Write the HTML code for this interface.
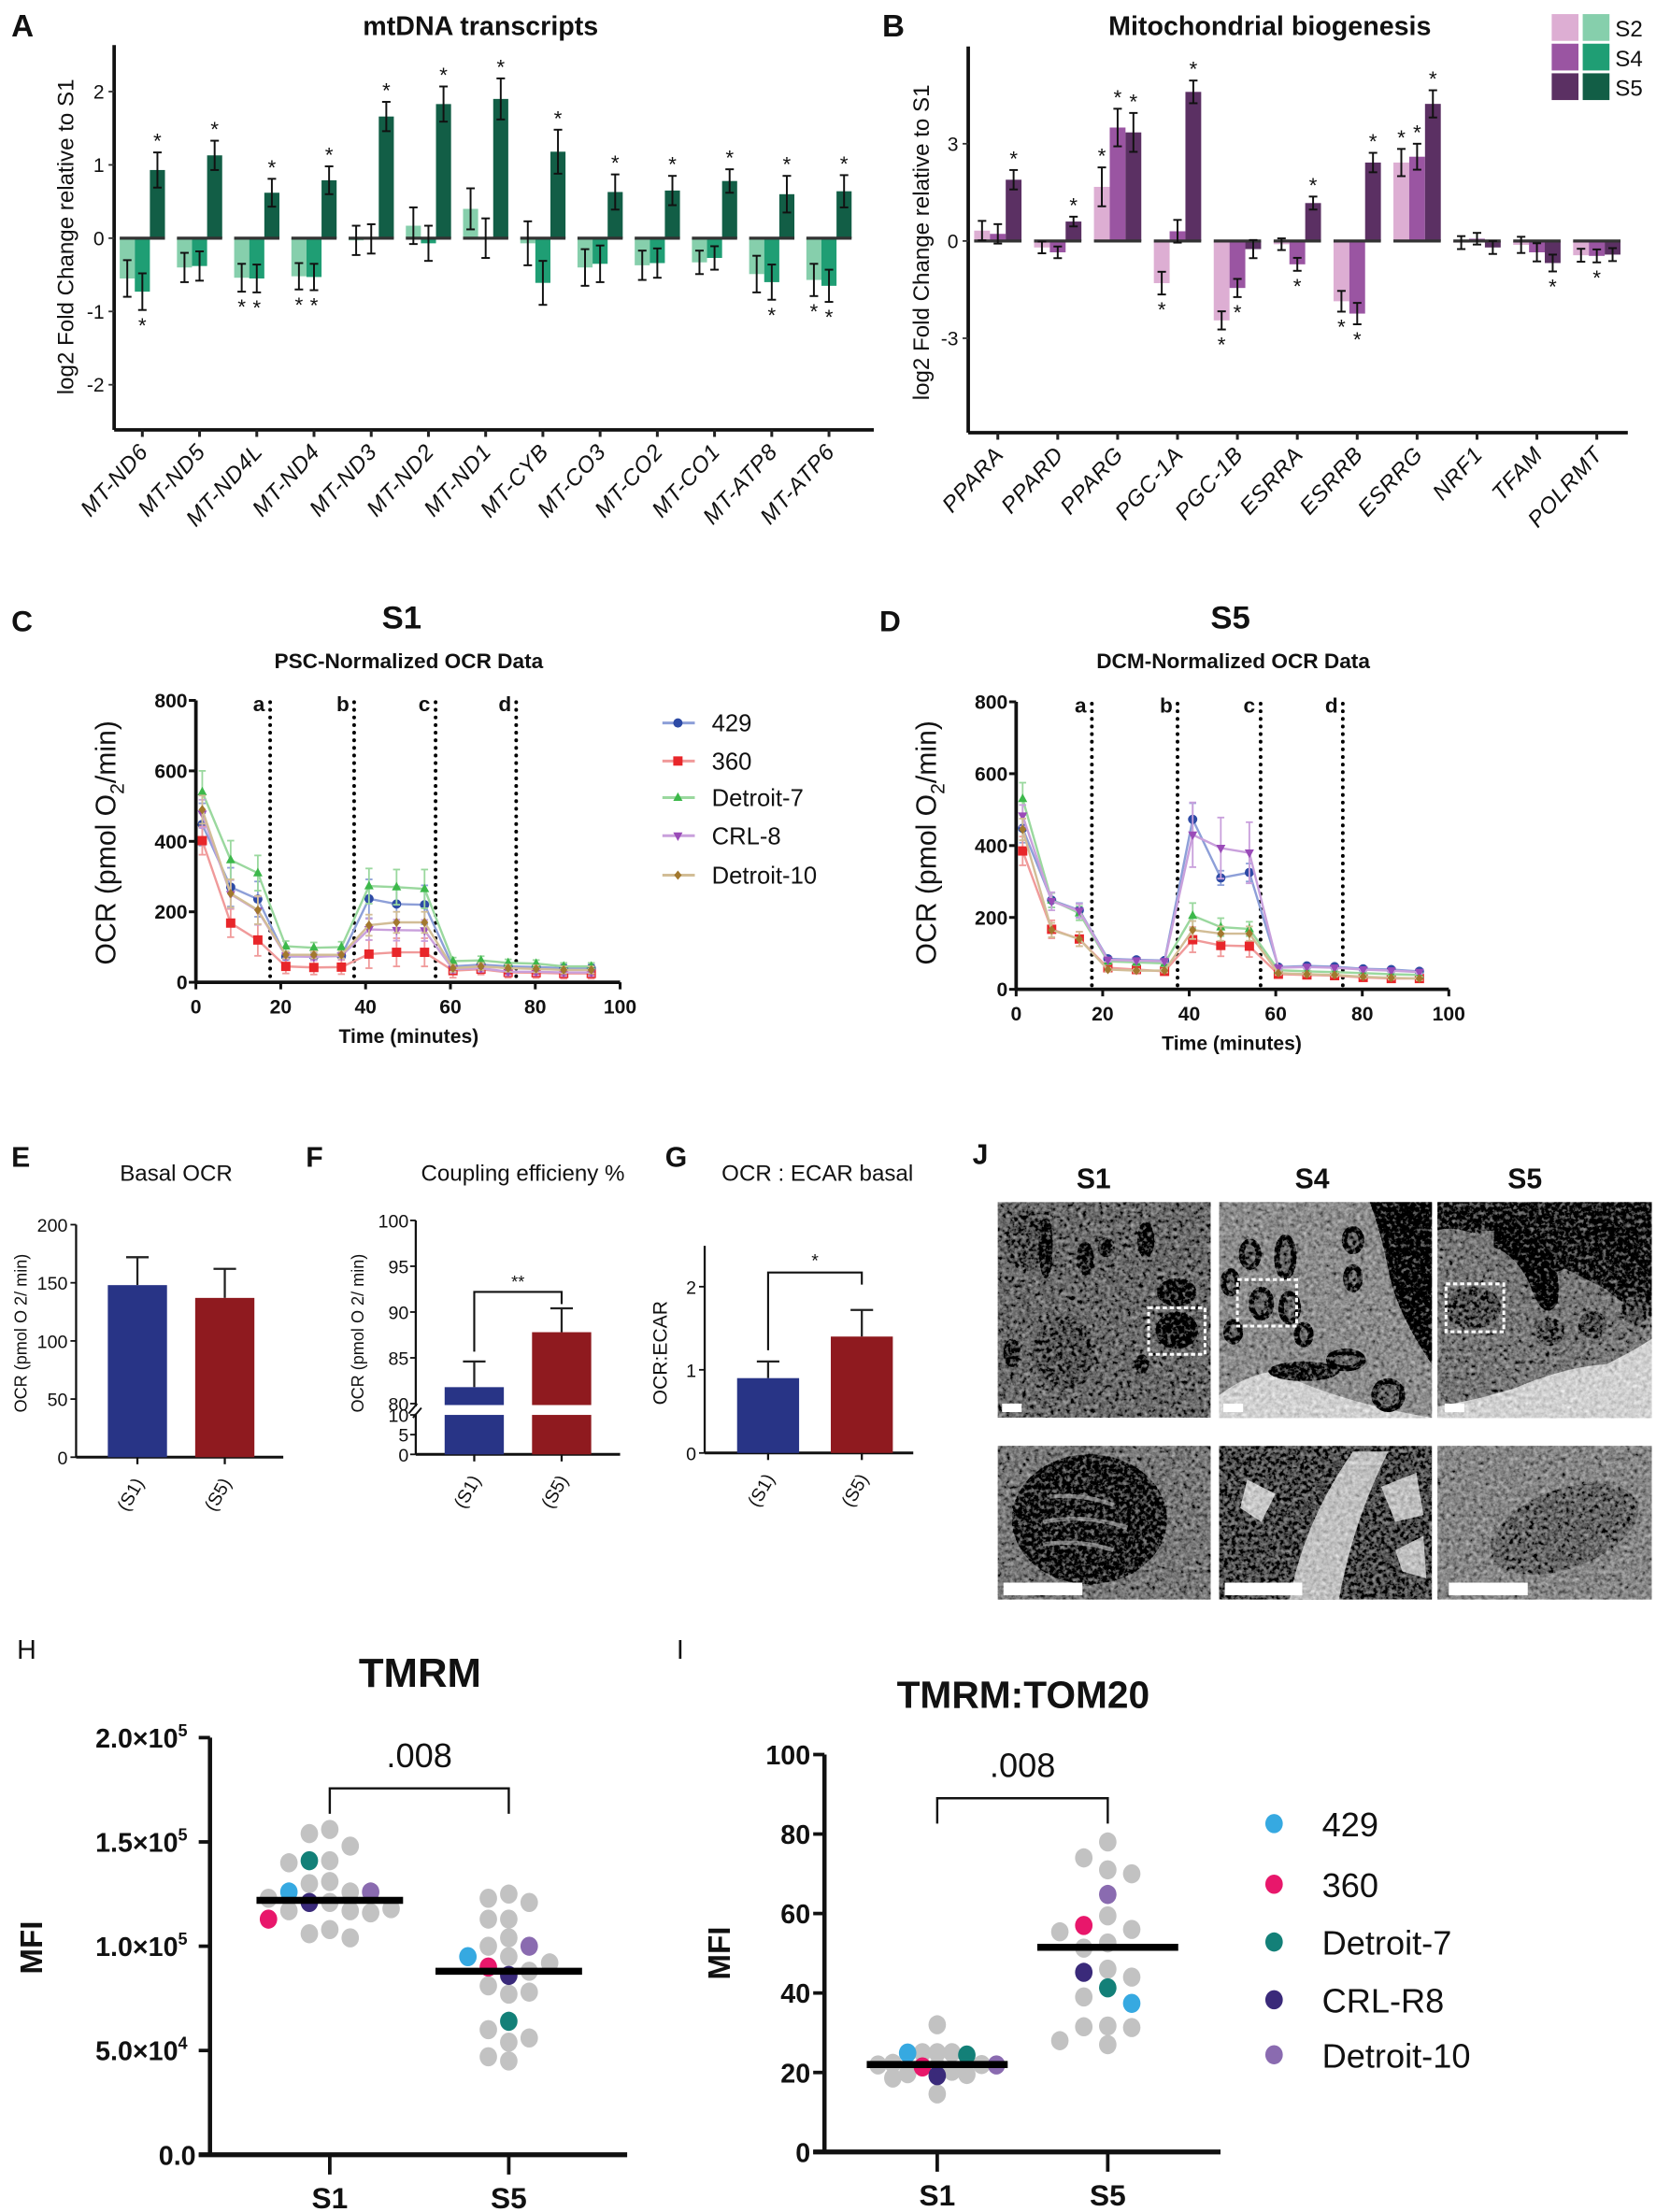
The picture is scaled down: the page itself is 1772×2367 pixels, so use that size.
<!DOCTYPE html>
<html><head><meta charset="utf-8">
<style>
html,body{margin:0;padding:0;background:#fff}
svg{display:block}
text{font-family:"Liberation Sans",Arial,sans-serif;fill:#111}
</style></head><body>
<svg id="fig" xmlns="http://www.w3.org/2000/svg" width="1772" height="2367" viewBox="0 0 1175 1569.6" preserveAspectRatio="none">
<defs>
<filter id="em" x="0" y="0" width="100%" height="100%">
<feTurbulence type="fractalNoise" baseFrequency="0.35" numOctaves="3" seed="4" result="n"/>
<feColorMatrix in="n" type="matrix" values="0.33 0.33 0.33 0 0 0.33 0.33 0.33 0 0 0.33 0.33 0.33 0 0 0 0 0 0 1" result="g"/>
<feComposite in="SourceGraphic" in2="g" operator="arithmetic" k1="0" k2="1" k3="1.0" k4="-0.55" result="c"/>
<feComposite in="c" in2="SourceGraphic" operator="in"/>
</filter>
</defs>

<!-- Panel A static -->
<text x="8" y="26" font-size="22" font-weight="bold">A</text>
<text x="341" y="25" font-size="19" font-weight="bold" text-anchor="middle">mtDNA transcripts</text>
<text transform="translate(52,168) rotate(-90)" font-size="16" text-anchor="middle">log2 Fold Change relative to S1</text>
<g id="gA"></g>

<!-- Panel B static -->
<text x="626" y="26" font-size="22" font-weight="bold">B</text>
<text x="901" y="25" font-size="19" font-weight="bold" text-anchor="middle">Mitochondrial biogenesis</text>
<text transform="translate(659,172) rotate(-90)" font-size="16" text-anchor="middle">log2 Fold Change relative to S1</text>
<g id="gB"></g>
<g>
<rect x="1101" y="10" width="19" height="19" fill="#ddaed3"/>
<rect x="1123" y="10" width="19" height="19" fill="#86cfac"/>
<rect x="1101" y="31" width="19" height="19" fill="#9a55a2"/>
<rect x="1123" y="31" width="19" height="19" fill="#1f9e74"/>
<rect x="1101" y="52" width="19" height="19" fill="#5b3063"/>
<rect x="1123" y="52" width="19" height="19" fill="#125e46"/>
<text x="1146" y="26" font-size="16">S2</text>
<text x="1146" y="47" font-size="16">S4</text>
<text x="1146" y="68" font-size="16">S5</text>
</g>

<!-- Panel C / D static -->
<text x="8" y="448" font-size="21" font-weight="bold">C</text>
<text x="285" y="446" font-size="23" font-weight="bold" text-anchor="middle">S1</text>
<text x="290" y="474" font-size="15" font-weight="bold" text-anchor="middle">PSC-Normalized OCR Data</text>
<text x="290" y="740" font-size="14" font-weight="bold" text-anchor="middle">Time (minutes)</text>
<text transform="translate(82,598) rotate(-90)" font-size="20" text-anchor="middle">OCR (pmol O<tspan font-size="14" dy="6">2</tspan><tspan dy="-6">/min)</tspan></text>
<g id="gC"></g>

<text x="624" y="448" font-size="21" font-weight="bold">D</text>
<text x="873" y="446" font-size="23" font-weight="bold" text-anchor="middle">S5</text>
<text x="875" y="474" font-size="15" font-weight="bold" text-anchor="middle">DCM-Normalized OCR Data</text>
<text x="874" y="745" font-size="14" font-weight="bold" text-anchor="middle">Time (minutes)</text>
<text transform="translate(664,598) rotate(-90)" font-size="20" text-anchor="middle">OCR (pmol O<tspan font-size="14" dy="6">2</tspan><tspan dy="-6">/min)</tspan></text>
<g id="gD"></g>
<g id="gLegC"></g>

<!-- Panels E F G static -->
<text x="8" y="828" font-size="20" font-weight="bold">E</text>
<text x="125" y="838" font-size="16" text-anchor="middle">Basal OCR</text>
<text transform="translate(19,946) rotate(-90)" font-size="12" text-anchor="middle">OCR (pmol O 2/ min)</text>
<g id="gE"></g>
<text x="217" y="828" font-size="20" font-weight="bold">F</text>
<text x="371" y="838" font-size="16" text-anchor="middle">Coupling efficieny %</text>
<text transform="translate(258,946) rotate(-90)" font-size="12" text-anchor="middle">OCR (pmol O 2/ min)</text>
<g id="gF"></g>
<text x="472" y="828" font-size="20" font-weight="bold">G</text>
<text x="580" y="838" font-size="16" text-anchor="middle">OCR : ECAR basal</text>
<text transform="translate(473,960) rotate(-90)" font-size="14" text-anchor="middle">OCR:ECAR</text>
<g id="gG"></g>

<!-- Panel J -->
<text x="690" y="826" font-size="20" font-weight="bold">J</text>
<text x="776" y="843" font-size="20" font-weight="bold" text-anchor="middle">S1</text>
<text x="931" y="843" font-size="20" font-weight="bold" text-anchor="middle">S4</text>
<text x="1082" y="843" font-size="20" font-weight="bold" text-anchor="middle">S5</text>
<g>
 <g filter="url(#em)">
  <rect x="708" y="853" width="151" height="153" fill="#7a7a7a"/>
  <ellipse cx="728" cy="880" rx="14" ry="22" fill="#666"/>
  <ellipse cx="742" cy="885" rx="5" ry="22" fill="#3e3e3e"/>
  <ellipse cx="770" cy="893" rx="6" ry="12" fill="#444"/>
  <ellipse cx="785" cy="885" rx="6" ry="7" fill="#4a4a4a"/>
  <ellipse cx="813" cy="880" rx="6" ry="13" fill="#424242"/>
  <ellipse cx="835" cy="917" rx="14" ry="10" fill="#3e3e3e"/>
  <ellipse cx="835" cy="944" rx="15" ry="13" fill="#303030"/>
  <ellipse cx="755" cy="960" rx="22" ry="26" fill="#686868"/>
  <ellipse cx="718" cy="960" rx="6" ry="10" fill="#4a4a4a"/>
  <ellipse cx="810" cy="968" rx="5" ry="7" fill="#424242"/>
 </g>
 <g filter="url(#em)">
  <rect x="865" y="853" width="151" height="153" fill="#989898"/>
  <path d="M972 853 L1016 853 L1016 968 Q990 930 985 900 Q980 875 972 853Z" fill="#2a2a2a"/>
  <path d="M865 1006 L865 990 Q885 975 905 973 Q950 995 1016 1006Z" fill="#d8d8d8"/>
  <ellipse cx="887" cy="890" rx="6" ry="9" fill="#777" stroke="#3a3a3a" stroke-width="4"/>
  <ellipse cx="912" cy="892" rx="6" ry="14" fill="#777" stroke="#3a3a3a" stroke-width="4"/>
  <ellipse cx="873" cy="910" rx="5" ry="8" fill="#777" stroke="#3a3a3a" stroke-width="4"/>
  <ellipse cx="960" cy="880" rx="6" ry="8" fill="#777" stroke="#3a3a3a" stroke-width="4"/>
  <ellipse cx="960" cy="907" rx="5" ry="8" fill="#777" stroke="#444" stroke-width="4"/>
  <ellipse cx="895" cy="925" rx="7" ry="10" fill="#777" stroke="#3a3a3a" stroke-width="4"/>
  <ellipse cx="915" cy="928" rx="6" ry="10" fill="#777" stroke="#3a3a3a" stroke-width="4"/>
  <ellipse cx="875" cy="945" rx="5" ry="7" fill="#777" stroke="#3a3a3a" stroke-width="4"/>
  <ellipse cx="925" cy="947" rx="5" ry="7" fill="#777" stroke="#3a3a3a" stroke-width="4"/>
  <ellipse cx="925" cy="973" rx="25" ry="7" fill="#4a4a4a"/>
  <ellipse cx="955" cy="965" rx="12" ry="6" fill="#777" stroke="#333" stroke-width="4"/>
  <ellipse cx="985" cy="990" rx="10" ry="10" fill="#777" stroke="#3a3a3a" stroke-width="4"/>
 </g>
 <g filter="url(#em)">
  <rect x="1020" y="853" width="152" height="153" fill="#858585"/>
  <path d="M1020 853 L1172 853 L1172 935 Q1150 925 1140 915 Q1120 905 1110 900 Q1095 910 1090 880 Q1060 870 1045 875 Q1030 870 1020 873Z" fill="#444"/>
  <path d="M1060 865 Q1090 868 1100 890 Q1108 905 1105 925 Q1095 940 1085 910 Q1075 890 1060 885Z" fill="#262626"/>
  <path d="M1130 860 Q1150 870 1165 890 L1172 905 L1160 895 Q1145 880 1130 875Z" fill="#262626"/>
  <path d="M1020 1006 L1020 998 Q1050 993 1075 985 Q1110 970 1140 968 Q1160 958 1172 950 L1172 1006Z" fill="#d8d8d8"/>
  <ellipse cx="1045" cy="928" rx="20" ry="15" fill="#666"/>
  <ellipse cx="1100" cy="945" rx="10" ry="10" fill="#646464"/>
  <ellipse cx="1130" cy="940" rx="10" ry="10" fill="#646464"/>
  <ellipse cx="1160" cy="930" rx="10" ry="10" fill="#646464"/>
 </g>
 <g filter="url(#em)">
  <rect x="708" y="1026" width="151" height="109" fill="#858585"/>
  <ellipse cx="773" cy="1078" rx="55" ry="46" fill="#484848"/>
  <path d="M745 1062 Q770 1060 790 1068" stroke="#8f8f8f" stroke-width="3" fill="none"/>
  <path d="M740 1080 Q770 1074 800 1084" stroke="#8f8f8f" stroke-width="3" fill="none"/>
  <path d="M740 1096 Q765 1092 790 1100" stroke="#8f8f8f" stroke-width="3" fill="none"/>
 </g>
 <g filter="url(#em)">
  <rect x="865" y="1026" width="151" height="109" fill="#646464"/>
  <path d="M915 1135 Q925 1080 960 1030 L985 1030 Q960 1080 950 1135Z" fill="#c8c8c8"/>
  <path d="M885 1050 L905 1060 L895 1080 L880 1070Z" fill="#d0d0d0"/>
  <path d="M980 1055 L1005 1045 L1010 1075 L990 1080Z" fill="#c8c8c8"/>
  <path d="M990 1100 L1010 1090 L1012 1120 L995 1115Z" fill="#c8c8c8"/>
 </g>
 <g filter="url(#em)">
  <rect x="1020" y="1026" width="152" height="109" fill="#939393"/>
  <ellipse cx="1110" cy="1085" rx="55" ry="28" fill="#777" transform="rotate(-20 1110 1085)"/>
 </g>
</g>
<g fill="#fff">
 <rect x="711" y="996" width="14" height="6"/>
 <rect x="868" y="996" width="14" height="6"/>
 <rect x="1025" y="996" width="14" height="6"/>
 <rect x="712" y="1123" width="56" height="9"/>
 <rect x="869" y="1123" width="55" height="9"/>
 <rect x="1028" y="1123" width="56" height="9"/>
</g>
<g fill="none" stroke="#fff" stroke-width="2" stroke-dasharray="3 2">
 <rect x="815" y="928" width="40" height="33"/>
 <rect x="878" y="908" width="42" height="33"/>
 <rect x="1026" y="911" width="41" height="34"/>
</g>

<!-- Panels H I static -->
<text x="12" y="1177" font-size="19">H</text>
<text x="298" y="1197" font-size="29" font-weight="bold" text-anchor="middle">TMRM</text>
<text transform="translate(30,1382) rotate(-90)" font-size="22" font-weight="bold" text-anchor="middle">MFI</text>
<g id="gH"></g>
<text x="480" y="1177" font-size="19">I</text>
<text x="726" y="1212" font-size="27" font-weight="bold" text-anchor="middle">TMRM:TOM20</text>
<text transform="translate(518,1386) rotate(-90)" font-size="22" font-weight="bold" text-anchor="middle">MFI</text>
<g id="gI"></g>
<g id="gLegI"></g>
</svg>

<script>
// ---------- Panel A data ----------
const aCats = ["MT-ND6","MT-ND5","MT-ND4L","MT-ND4","MT-ND3","MT-ND2","MT-ND1","MT-CYB","MT-CO3","MT-CO2","MT-CO1","MT-ATP8","MT-ATP6"];
const aS2 = [-0.55,-0.40,-0.54,-0.52,-0.03,0.17,0.40,-0.07,-0.40,-0.37,-0.33,-0.49,-0.57];
const aS4 = [-0.73,-0.38,-0.55,-0.53,-0.01,-0.07,0.00,-0.61,-0.35,-0.34,-0.27,-0.60,-0.65];
const aS5 = [0.93,1.13,0.62,0.79,1.66,1.83,1.90,1.18,0.63,0.65,0.78,0.60,0.64];
const aErr2 = [0.25,0.2,0.19,0.18,0.2,0.25,0.28,0.3,0.25,0.2,0.16,0.25,0.22];
const aErr4 = [0.25,0.2,0.19,0.18,0.2,0.24,0.27,0.3,0.25,0.2,0.16,0.24,0.22];
const aErr5 = [0.24,0.2,0.19,0.19,0.2,0.24,0.28,0.3,0.24,0.2,0.16,0.25,0.22];
const aSig2 = [0,0,1,1,0,0,0,0,0,0,0,0,1];
const aSig4 = [1,0,1,1,0,0,0,0,0,0,0,1,1];
const aSig5 = [1,1,1,1,1,1,1,1,1,1,1,1,1];
const aTicks = [2,1,0,-1,-2];

// ---------- Panel B data ----------
const bCats = ["PPARA","PPARD","PPARG","PGC-1A","PGC-1B","ESRRA","ESRRB","ESRRG","NRF1","TFAM","POLRMT"];
const bS2 = [0.32,-0.20,1.67,-1.30,-2.45,-0.10,-1.86,2.42,-0.05,-0.12,-0.44];
const bS4 = [0.22,-0.35,3.50,0.30,-1.45,-0.72,-2.24,2.60,0.07,-0.35,-0.46];
const bS5 = [1.89,0.60,3.35,4.60,-0.25,1.17,2.42,4.23,-0.20,-0.68,-0.42];
const bErr2 = [0.3,0.18,0.6,0.35,0.28,0.18,0.32,0.42,0.2,0.25,0.2];
const bErr4 = [0.3,0.18,0.58,0.35,0.28,0.2,0.33,0.4,0.18,0.28,0.2];
const bErr5 = [0.3,0.15,0.6,0.35,0.28,0.2,0.3,0.42,0.2,0.26,0.2];
const bSig2 = [0,0,1,1,1,0,1,1,0,0,0];
const bSig4 = [0,0,1,0,1,1,1,1,0,0,1];
const bSig5 = [1,1,1,1,0,1,1,1,0,1,0];
const bTicks = [3,0,-3];

// ---------- Panels C / D data ----------
const ocrTimes = [1.5,8.2,14.6,21.2,27.8,34.3,40.8,47.3,53.9,60.6,67.2,73.6,80.2,86.7,93.2];
const ocrSeriesNames = ["429","360","Detroit-7","CRL-8","Detroit-10"];
const ocrInjections = [17.5,37.3,56.5,75.5];
const ocrInjLabels = ["a","b","c","d"];
const ocrYTicks = [0,200,400,600,800];
const ocrXTicks = [0,20,40,60,80,100];
const c429 = [448,270,236,73,73,75,237,222,220,45,50,45,43,40,40];
const c360 = [402,168,120,45,42,43,80,85,85,33,37,28,27,25,25];
const cD7 = [540,347,310,102,98,100,273,270,265,60,62,55,53,45,45];
const cCRL = [478,250,203,75,72,75,150,148,147,37,40,30,30,28,28];
const cD10 = [490,252,205,78,78,78,162,170,170,40,45,40,38,35,35];
const c429e = [60,55,50,10,10,10,55,50,55,10,10,10,10,10,10];
const c360e = [40,40,45,20,20,20,40,40,40,20,15,15,15,15,15];
const cD7e = [60,55,50,15,15,15,50,50,55,10,12,10,10,10,10];
const cCRLe = [40,40,40,10,10,10,30,30,30,10,10,10,10,10,10];
const cD10e = [40,40,40,10,10,10,30,30,30,10,10,10,10,10,10];
const d429 = [448,248,220,85,82,80,473,310,325,62,65,63,57,55,50];
const d360 = [385,167,140,60,55,50,138,122,120,42,40,38,33,30,30];
const dD7 = [530,248,212,78,75,72,205,173,168,53,50,48,45,42,40];
const dCRL = [483,245,218,82,80,78,430,393,380,60,62,60,55,52,48];
const dD10 = [445,165,140,55,52,52,165,155,155,45,42,40,35,32,30];
const d429e = [40,20,20,5,5,5,45,20,25,5,5,5,5,5,5];
const d360e = [40,25,20,10,10,10,35,30,30,5,5,5,5,5,5];
const dD7e = [45,20,20,8,8,8,35,25,20,5,5,5,5,5,5];
const dCRLe = [30,25,20,5,5,5,90,85,85,5,5,5,5,5,5];
const dD10e = [30,20,20,5,5,5,25,20,20,5,5,5,5,5,5];

// ---------- Panels E F G data ----------
const efgGroups = ["(S1)","(S5)"];
const eVals = [148,137];
const eErrs = [24,25];
const eTicks = [0,50,100,150,200];
const fVals = [81.8,87.8];
const fErrs = [2.8,2.6];
const fTicksUpper = [80,85,90,95,100];
const fTicksLower = [0,5,10];
const gVals = [0.9,1.4];
const gErrs = [0.2,0.32];
const gTicks = [0,1,2];

// ---------- Panels H I data ----------
const cellLines = ["429","360","Detroit-7","CRL-R8","Detroit-10"];
const hGroups = ["S1","S5"];
const hS1Gray = [1.56,1.54,1.48,1.41,1.40,1.31,1.30,1.23,1.26,1.21,1.18,1.17,1.16,1.17,1.04,1.08,1.06];
const hS5Gray = [1.21,1.25,1.23,1.13,1.13,1.04,1.00,0.92,0.95,0.88,0.81,0.78,0.77,0.60,0.56,0.54,0.45,0.47];
const hS1Lines = [1.26,1.13,1.41,1.21,1.26];
const hS5Lines = [0.95,0.90,0.64,0.86,1.00];
const hMedians = [1.22,0.88];
const hTicks = [0,0.5,1.0,1.5,2.0];
const hTickLabels = ["0.0","5.0×10","1.0×10","1.5×10","2.0×10"];
const hTickExp = ["","4","5","5","5"];
const iS1Gray = [32,25,25,25,19.5,19.7,18.6,14.6,22.3,22,21.4,21.9,20.3];
const iS5Gray = [78,74,70,71,59.4,56,55.4,52.6,51.3,46,44,39,31.3,31.7,31.5,27,28];
const iS1Lines = [24.9,21.4,24.4,19.2,21.9];
const iS5Lines = [37.4,57,41.3,45.2,64.8];
const iMedians = [22,51.5];
const iTicks = [0,20,40,60,80,100];

// ---------- helpers ----------
const NS = "http://www.w3.org/2000/svg";
function mk(tag, attrs, parent) {
  const e = document.createElementNS(NS, tag);
  for (const k in attrs) e.setAttribute(k, attrs[k]);
  parent.appendChild(e);
  return e;
}
function line(p, x1, y1, x2, y2, stroke, w) {
  return mk("line", {x1:x1, y1:y1, x2:x2, y2:y2, stroke:stroke, "stroke-width":w}, p);
}

// ---------- grouped bar chart (A, B) ----------
function groupedBars(gid, cats, series, errs, sigs, colors, names, cfg) {
  const g = document.getElementById(gid);
  const y = v => cfg.y0 - v * cfg.unit;
  let ax = line(g, cfg.ax, cfg.top, cfg.ax, cfg.bottom, "#111", 2.5);
  
  
  let bx = line(g, cfg.ax, cfg.bottom, cfg.right, cfg.bottom, "#111", 2.5);
  
  
  cfg.ticks.forEach(t => {
    line(g, cfg.ax - 4, y(t), cfg.ax, y(t), "#333", 1.2);
    const tl = mk("text", {x: cfg.ax - 7, y: y(t) + 5, "font-size": 14, "text-anchor": "end", fill: "#444"}, g);
    tl.textContent = String(t);
    
    
  });
  cats.forEach((c, i) => {
    const cx = cfg.c0 + cfg.step * i;
    line(g, cx, cfg.bottom, cx, cfg.bottom + 5, "#222", 2);
    const lab = mk("text", {transform: `translate(${cx + 5},${cfg.bottom + 16}) rotate(-48)`, "font-size": 16, "font-style": "italic", "letter-spacing": "0.6", "text-anchor": "end", fill: "#333"}, g);
    lab.textContent = c;
    
    
    const bw = cfg.bw;
    series.forEach((s, k) => {
      const v = s[i];
      const bxl = cx + (k - 1) * bw - bw / 2;
      const r = mk("rect", {x: bxl, y: Math.min(y(0), y(v)), width: bw, height: Math.max(0.5, Math.abs(y(v) - y(0))), fill: colors[k]}, g);
      
      
    });
    const z = line(g, cx - 1.5 * bw, y(0), cx + 1.5 * bw, y(0), "#333", 2.2);
    
    
    series.forEach((s, k) => {
      const v = s[i], e = errs[k][i];
      const ex = cx + (k - 1) * bw;
      const eb = mk("g", {stroke: "#111", "stroke-width": 1.3}, g);
      
      
      line(eb, ex, y(v - e), ex, y(v + e), "#111", 1.3);
      line(eb, ex - 3, y(v - e), ex + 3, y(v - e), "#111", 1.3);
      line(eb, ex - 3, y(v + e), ex + 3, y(v + e), "#111", 1.3);
      if (sigs[k][i]) {
        const ty = v >= 0 ? y(v + e) - 3 : y(v - e) + 16;
        const st = mk("text", {x: ex, y: ty, "font-size": 15, "text-anchor": "middle"}, g);
        st.textContent = "*";
        
        
      }
    });
  });
}
groupedBars("gA", aCats, [aS2, aS4, aS5], [aErr2, aErr4, aErr5], [aSig2, aSig4, aSig5],
  ["#86cfac", "#1f9e74", "#125e46"], ["s2", "s4", "s5"],
  {y0: 169, unit: 52, ax: 81, top: 32, bottom: 305, right: 620, c0: 101, step: 40.6, bw: 10.7, ticks: aTicks});
groupedBars("gB", bCats, [bS2, bS4, bS5], [bErr2, bErr4, bErr5], [bSig2, bSig4, bSig5],
  ["#ddaed3", "#9a55a2", "#5b3063"], ["s2", "s4", "s5"],
  {y0: 171, unit: 23, ax: 687, top: 33, bottom: 307, right: 1155, c0: 708, step: 42.5, bw: 11.2, ticks: bTicks});

// ---------- OCR line charts ----------
const ocrColors = ["#2d4aa5", "#e8262a", "#3cb84a", "#9a4bb8", "#a2782e"];
const ocrLineColors = ["#8d9fd8", "#f09a9a", "#9ad89e", "#c9a0dc", "#d2bd96"];
const ocrMarkers = ["circle", "square", "tri", "itri", "diamond"];
function marker(p, type, x, y, col, s) {
  let el;
  if (type === "circle") el = mk("circle", {cx: x, cy: y, r: s, fill: col}, p);
  else if (type === "square") el = mk("rect", {x: x - s, y: y - s, width: 2 * s, height: 2 * s, fill: col}, p);
  else if (type === "tri") el = mk("polygon", {points: `${x},${y - s - 0.5} ${x - s},${y + s * 0.7} ${x + s},${y + s * 0.7}`, fill: col}, p);
  else if (type === "itri") el = mk("polygon", {points: `${x},${y + s + 0.5} ${x - s},${y - s * 0.7} ${x + s},${y - s * 0.7}`, fill: col}, p);
  else el = mk("polygon", {points: `${x},${y - s} ${x + s * 0.8},${y} ${x},${y + s} ${x - s * 0.8},${y}`, fill: col}, p);
  return el;
}
function ocrChart(gid, data, errs, cfg) {
  const g = document.getElementById(gid);
  const X = t => cfg.x0 + t * cfg.xu;
  const Y = v => cfg.y0 - v * cfg.yu;
  const ya = line(g, cfg.x0, Y(800), cfg.x0, cfg.y0, "#111", 2.5);
  
  
  const xa = line(g, cfg.x0, cfg.y0, X(100), cfg.y0, "#111", 2.5);
  
  
  ocrYTicks.forEach(t => {
    line(g, cfg.x0 - 5, Y(t), cfg.x0, Y(t), "#111", 2);
    const tl = mk("text", {x: cfg.x0 - 6, y: Y(t) + 5, "font-size": 14, "font-weight": "bold", "text-anchor": "end"}, g);
    tl.textContent = String(t);
    
    
  });
  ocrXTicks.forEach(t => {
    line(g, X(t), cfg.y0, X(t), cfg.y0 + 5, "#111", 2);
    const tl = mk("text", {x: X(t), y: cfg.y0 + 22, "font-size": 14, "font-weight": "bold", "text-anchor": "middle"}, g);
    tl.textContent = String(t);
    
    
  });
  ocrInjections.forEach((t, k) => {
    const dl = mk("line", {x1: X(t), y1: Y(795), x2: X(t), y2: cfg.y0, stroke: "#000", "stroke-width": 2.6, "stroke-dasharray": "0.1 5.3", "stroke-linecap": "round"}, g);
    
    
    const lt = mk("text", {x: X(t) - 8, y: Y(770), "font-size": 15, "font-weight": "bold", "text-anchor": "middle"}, g);
    lt.textContent = ocrInjLabels[k];
    
    
  });
  data.forEach((s, k) => {
    const sg = mk("g", {}, g);
    
    
    s.forEach((v, i) => {
      const e = errs[k][i], x = X(ocrTimes[i]);
      line(sg, x, Y(v - e), x, Y(v + e), ocrLineColors[k], 1.2);
      line(sg, x - 2.5, Y(v + e), x + 2.5, Y(v + e), ocrLineColors[k], 1.2);
      line(sg, x - 2.5, Y(v - e), x + 2.5, Y(v - e), ocrLineColors[k], 1.2);
    });
    const pts = s.map((v, i) => X(ocrTimes[i]) + "," + Y(v)).join(" ");
    const pl = mk("polyline", {points: pts, fill: "none", stroke: ocrLineColors[k], "stroke-width": 1.6}, sg);
    
    
    s.forEach((v, i) => {
      const m = marker(sg, ocrMarkers[k], X(ocrTimes[i]), Y(v), ocrColors[k], 3.3);
      
      
    });
  });
}
ocrChart("gC", [c429, c360, cD7, cCRL, cD10], [c429e, c360e, cD7e, cCRLe, cD10e], {x0: 139, xu: 3.01, y0: 697, yu: 0.25});
ocrChart("gD", [d429, d360, dD7, dCRL, dD10], [d429e, d360e, dD7e, dCRLe, dD10e], {x0: 721, xu: 3.07, y0: 702, yu: 0.255});
(function () {
  const g = document.getElementById("gLegC");
  const ys = [513, 540, 566, 593, 621];
  ocrSeriesNames.forEach((n, k) => {
    const l = line(g, 470, ys[k], 493, ys[k], ocrLineColors[k], 2);
    
    
    const m = marker(g, ocrMarkers[k], 481, ys[k], ocrColors[k], 3.3);
    
    
    const t = mk("text", {x: 505, y: ys[k] + 6, "font-size": 17}, g);
    t.textContent = n;
    
    
  });
})();

// ---------- E F G ----------
const barCols = ["#283486", "#8f1a1f"];
function errCap(g, x, y1, y2) {
  const eg = mk("g", {}, g);
  
  
  line(eg, x, y1, x, y2, "#222", 1.5);
  line(eg, x - 8, y2, x + 8, y2, "#222", 1.5);
}
function xLabels(g, xs, yb) {
  efgGroups.forEach((n, i) => {
    const t = mk("text", {transform: `translate(${xs[i] + 5},${yb + 12}) rotate(-60)`, "font-size": 13, "text-anchor": "end"}, g);
    t.textContent = n;
    
    
  });
}
(function () {
  const g = document.getElementById("gE");
  const Y = v => 1034 - v * 0.825;
  const xs = [97.5, 159.5];
  const ya = line(g, 54, Y(200), 54, 1034, "#111", 1.5);
  
  
  const xa = line(g, 54, 1034, 201, 1034, "#111", 2);
  
  
  eTicks.forEach(t => {
    line(g, 50, Y(t), 54, Y(t), "#111", 1.2);
    const tl = mk("text", {x: 48, y: Y(t) + 5, "font-size": 13, "text-anchor": "end"}, g);
    tl.textContent = String(t);
    
    
  });
  eVals.forEach((v, i) => {
    errCap(g, xs[i], Y(v), Y(v + eErrs[i]));
    const r = mk("rect", {x: xs[i] - 21, y: Y(v), width: 42, height: 1034 - Y(v), fill: barCols[i]}, g);
    
    
    line(g, xs[i], 1034, xs[i], 1039, "#111", 1.5);
  });
  xLabels(g, xs, 1040);
})();
(function () {
  const g = document.getElementById("gF");
  const Y = v => v <= 10 ? 1032 - v * 2.8 : 996 - (v - 80) * 6.5;
  const xs = [336.5, 398.5];
  const ya = line(g, 295, Y(100), 295, 998, "#111", 1.5);
  
  
  const yb = line(g, 295, 1003, 295, 1032, "#111", 1.5);
  
  
  const br = mk("path", {d: "M290 1003 L296 996 M293 1006 L299 999", stroke: "#111", "stroke-width": 1.3, fill: "none"}, g);
  
  
  const xa = line(g, 295, 1032, 440, 1032, "#111", 2);
  
  
  fTicksUpper.concat(fTicksLower).forEach(t => {
    line(g, 291, Y(t), 295, Y(t), "#111", 1.2);
    const tl = mk("text", {x: 290, y: Y(t) + 5, "font-size": 13, "text-anchor": "end"}, g);
    tl.textContent = String(t);
    
    
  });
  fVals.forEach((v, i) => {
    errCap(g, xs[i], Y(v), Y(v + fErrs[i]));
    const r1 = mk("rect", {x: xs[i] - 21, y: Y(v), width: 42, height: 997 - Y(v), fill: barCols[i]}, g);
    
    
    const r2 = mk("rect", {x: xs[i] - 21, y: Y(10), width: 42, height: 1032 - Y(10), fill: barCols[i]}, g);
    
    
    line(g, xs[i], 1032, xs[i], 1037, "#111", 1.5);
  });
  const by = Y(Math.max(fVals[0] + fErrs[0], fVals[1] + fErrs[1]) + 1.8);
  const bk = mk("path", {d: `M${xs[0]} ${Y(fVals[0] + fErrs[0]) - 7} L${xs[0]} ${by} L${xs[1]} ${by} L${xs[1]} ${Y(fVals[1] + fErrs[1]) - 3}`, stroke: "#111", "stroke-width": 1.4, fill: "none"}, g);
  
  
  const st = mk("text", {x: (xs[0] + xs[1]) / 2, y: by - 3, "font-size": 12, "text-anchor": "middle"}, g);
  st.textContent = "**";
  
  
  xLabels(g, xs, 1038);
})();
(function () {
  const g = document.getElementById("gG");
  const Y = v => 1031 - v * 59;
  const xs = [545, 611.5];
  const ya = line(g, 500, 884, 500, 1031, "#111", 1.5);
  
  
  const xa = line(g, 500, 1031, 648, 1031, "#111", 2);
  
  
  gTicks.forEach(t => {
    line(g, 496, Y(t), 500, Y(t), "#111", 1.2);
    const tl = mk("text", {x: 494, y: Y(t) + 5, "font-size": 13, "text-anchor": "end"}, g);
    tl.textContent = String(t);
    
    
  });
  gVals.forEach((v, i) => {
    errCap(g, xs[i], Y(v), Y(v + gErrs[i]));
    const r = mk("rect", {x: xs[i] - 22, y: Y(v), width: 44, height: 1031 - Y(v), fill: barCols[i]}, g);
    
    
    line(g, xs[i], 1031, xs[i], 1036, "#111", 1.5);
  });
  const by = Y(Math.max(gVals[0] + gErrs[0], gVals[1] + gErrs[1]) + 0.45);
  const bk = mk("path", {d: `M${xs[0]} ${Y(gVals[0] + gErrs[0]) - 8} L${xs[0]} ${by} L${xs[1]} ${by} L${xs[1]} ${Y(gVals[1] + gErrs[1]) - 18}`, stroke: "#111", "stroke-width": 1.4, fill: "none"}, g);
  
  
  const st = mk("text", {x: (xs[0] + xs[1]) / 2, y: by - 4, "font-size": 13, "text-anchor": "middle"}, g);
  st.textContent = "*";
  
  
  xLabels(g, xs, 1037);
})();

// ---------- H I scatter ----------
const lineColors = ["#36a9e1", "#e8176b", "#138078", "#3a2a7a", "#8a6bb0"];
function swarm(vals, Y, cx, step, dia) {
  const order = vals.map((v, i) => i).sort((a, b) => vals[b] - vals[a]);
  const placed = [], xs = new Array(vals.length);
  const offs = [0, -1, 1, -2, 2, -3, 3, -4, 4];
  order.forEach(i => {
    const y = Y(vals[i]);
    for (const o of offs) {
      const x = cx + o * step;
      if (placed.every(p => Math.hypot(p[0] - x, p[1] - y) >= dia)) { xs[i] = x; placed.push([x, y]); break; }
    }
    if (xs[i] === undefined) { xs[i] = cx; placed.push([cx, y]); }
  });
  return xs;
}
function dotPlot(gid, cfg) {
  const g = document.getElementById(gid);
  const Y = v => cfg.y0 - v * cfg.yu;
  const ya = line(g, cfg.ax, Y(cfg.ticks[cfg.ticks.length - 1]), cfg.ax, cfg.y0 + 1.5, "#111", 3);
  
  
  const xa = line(g, cfg.ax - 8, cfg.y0, cfg.right, cfg.y0, "#111", 3.5);
  
  
  cfg.ticks.forEach((t, k) => {
    line(g, cfg.ax - 8, Y(t), cfg.ax, Y(t), "#111", 2.5);
    const tl = mk("text", {x: cfg.ax - 10, y: Y(t) + 7, "font-size": 19, "font-weight": "bold", "text-anchor": "end"}, g);
    tl.textContent = cfg.labels[k];
    if (cfg.exps && cfg.exps[k]) {
      const sp = mk("tspan", {dy: -8, "font-size": 12}, tl);
      sp.textContent = cfg.exps[k];
      tl.setAttribute('x', cfg.ax - 16);
    }
    
    
  });
  hGroups.forEach((n, gi) => {
    const cx = cfg.xs[gi];
    line(g, cx, cfg.y0, cx, cfg.y0 + 14, "#111", 2.5);
    const tl = mk("text", {x: cx, y: cfg.y0 + 38, "font-size": 21, "font-weight": "bold", "text-anchor": "middle"}, g);
    tl.textContent = n;
    
    
    const gray = cfg.gray[gi], col = cfg.lines[gi];
    const all = gray.concat(col);
    const xs = swarm(all, Y, cx, cfg.step[gi], cfg.dia[gi]);
    all.forEach((v, i) => {
      const isCol = i >= gray.length;
      const d = mk("ellipse", {cx: xs[i], cy: Y(v), rx: 6.2, ry: 6.8, fill: isCol ? lineColors[i - gray.length] : "#c2c2c2"}, g);
      
      
    });
    const md = line(g, cx - cfg.mw, Y(cfg.medians[gi]), cx + cfg.mw, Y(cfg.medians[gi]), "#000", 5);
    
    
  });
  const bk = mk("path", {d: `M${cfg.xs[0]} ${cfg.bkLeg} L${cfg.xs[0]} ${cfg.bkY} L${cfg.xs[1]} ${cfg.bkY} L${cfg.xs[1]} ${cfg.bkLeg}`, stroke: "#111", "stroke-width": 1.6, fill: "none"}, g);
  
  
  const pv = mk("text", {x: (cfg.xs[0] + cfg.xs[1]) / 2, y: cfg.bkY - 15, "font-size": 24, "text-anchor": "middle"}, g);
  pv.textContent = ".008";
  
  
}
dotPlot("gH", {y0: 1529, yu: 148, ax: 149, right: 445, xs: [234, 361], ticks: hTicks, labels: hTickLabels, exps: hTickExp,
  gray: [hS1Gray, hS5Gray], lines: [hS1Lines, hS5Lines], medians: hMedians, mw: 52, bkY: 1269, bkLeg: 1287, step: [14.5, 14.5], dia: [12.2, 12.2]});
dotPlot("gI", {y0: 1527, yu: 2.82, ax: 585, right: 866, xs: [665, 786], ticks: iTicks, labels: iTicks.map(String), exps: null,
  gray: [iS1Gray, iS5Gray], lines: [iS1Lines, iS5Lines], medians: iMedians, mw: 50, bkY: 1276, bkLeg: 1294, step: [10.5, 17], dia: [9, 13]});
(function () {
  const g = document.getElementById("gLegI");
  const ys = [1294, 1337, 1378, 1419, 1458];
  cellLines.forEach((n, k) => {
    const d = mk("ellipse", {cx: 904, cy: ys[k], rx: 6.2, ry: 6.8, fill: lineColors[k]}, g);
    
    
    const t = mk("text", {x: 938, y: ys[k] + 9, "font-size": 24}, g);
    t.textContent = n;
    
    
  });
})();
</script>
</body></html>
